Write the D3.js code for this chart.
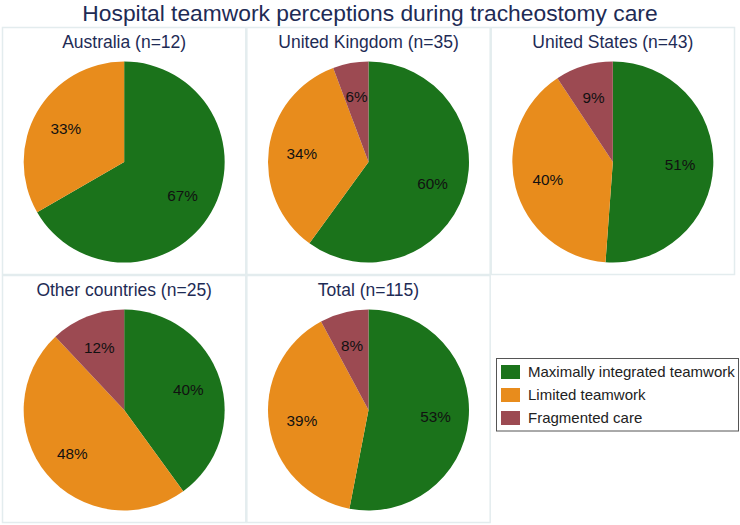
<!DOCTYPE html>
<html><head><meta charset="utf-8">
<script src="https://cdn.jsdelivr.net/npm/d3@7"></script>
<style>html,body{margin:0;padding:0;background:#fff;}svg{display:block;}</style>
</head><body>
<svg id="chart" width="740" height="525"></svg>
<script>
const title = "Hospital teamwork perceptions during tracheostomy care";
const categories = ["Maximally integrated teamwork", "Limited teamwork", "Fragmented care"];
const colors = ["#1b731b", "#e88c1c", "#9c4a52"];
const panels = ["Australia", "United Kingdom", "United States", "Other countries", "Total"];
const maximally = [8, 21, 22, 10, 61];
const limited = [4, 12, 17, 12, 45];
const fragmented = [0, 2, 4, 3, 9];

const svg = d3.select("#chart");
const font = "'Liberation Sans', Arial, sans-serif";

svg.append("text").attr("x", 370).attr("y", 20.5).attr("text-anchor", "middle")
  .attr("font-family", font).attr("font-size", 22.8).attr("fill", "#1e2b55").text(title);

const colX = d3.scaleBand().domain([0,1,2]).range([2, 735]);
const rowY = d3.scaleBand().domain([0,1]).range([27, 523]);
const color = d3.scaleOrdinal().domain(categories).range(colors);
const pie = d3.pie().sort(null).value(d => d.v);
const R = 100.5;
const arc = d3.arc().innerRadius(0).outerRadius(R);
const labelArc = d3.arc().innerRadius(R*0.67).outerRadius(R*0.67);

panels.forEach((name, i) => {
  const c = i % 3, r = Math.floor(i / 3);
  const x0 = colX(c), y0 = rowY(r), w = colX.bandwidth(), h = rowY.bandwidth();
  const g = svg.append("g");
  g.append("rect").attr("x", x0+0.5).attr("y", y0+0.5).attr("width", w-1).attr("height", h-1)
    .attr("fill", "none").attr("stroke", "#e3ecee").attr("stroke-width", 1.5);
  const vals = [maximally[i], limited[i], fragmented[i]];
  const n = d3.sum(vals);
  g.append("text").attr("x", x0 + w/2).attr("y", y0 + 20.5).attr("text-anchor", "middle")
    .attr("font-family", font).attr("font-size", 17.5).attr("fill", "#1e2b55")
    .text(`${name} (n=${n})`);
  const data = categories.map((k, j) => ({k, v: vals[j]}));
  const cg = g.append("g").attr("transform", `translate(${x0 + w/2},${y0 + 135})`);
  const arcs = pie(data).filter(d => d.data.v > 0);
  cg.selectAll("path").data(arcs).join("path").attr("d", arc)
    .attr("fill", d => color(d.data.k)).attr("stroke", "none");
  cg.selectAll("text").data(arcs).join("text")
    .attr("transform", d => `translate(${labelArc.centroid(d)})`)
    .attr("text-anchor", "middle").attr("dy", "0.38em")
    .attr("font-family", font).attr("font-size", 15.3).attr("fill", "#111")
    .text(d => Math.round(100 * d.data.v / n) + "%");
});

// legend
const lg = svg.append("g");
lg.append("rect").attr("x", 492).attr("y", 346).attr("width", 246).attr("height", 90).attr("fill", "#fff");
lg.append("rect").attr("x", 496.5).attr("y", 358.5).attr("width", 242).attr("height", 72.5)
  .attr("fill", "#fff").attr("stroke", "#555").attr("stroke-width", 1);
const ly = d3.scalePoint().domain(categories).range([372, 418]);
categories.forEach(k => {
  lg.append("rect").attr("x", 501).attr("y", ly(k) - 7).attr("width", 19).attr("height", 14).attr("fill", color(k));
  lg.append("text").attr("x", 528).attr("y", ly(k)).attr("dy", "0.36em")
    .attr("font-family", font).attr("font-size", 15).attr("fill", "#222").text(k);
});
</script>
</body></html>
